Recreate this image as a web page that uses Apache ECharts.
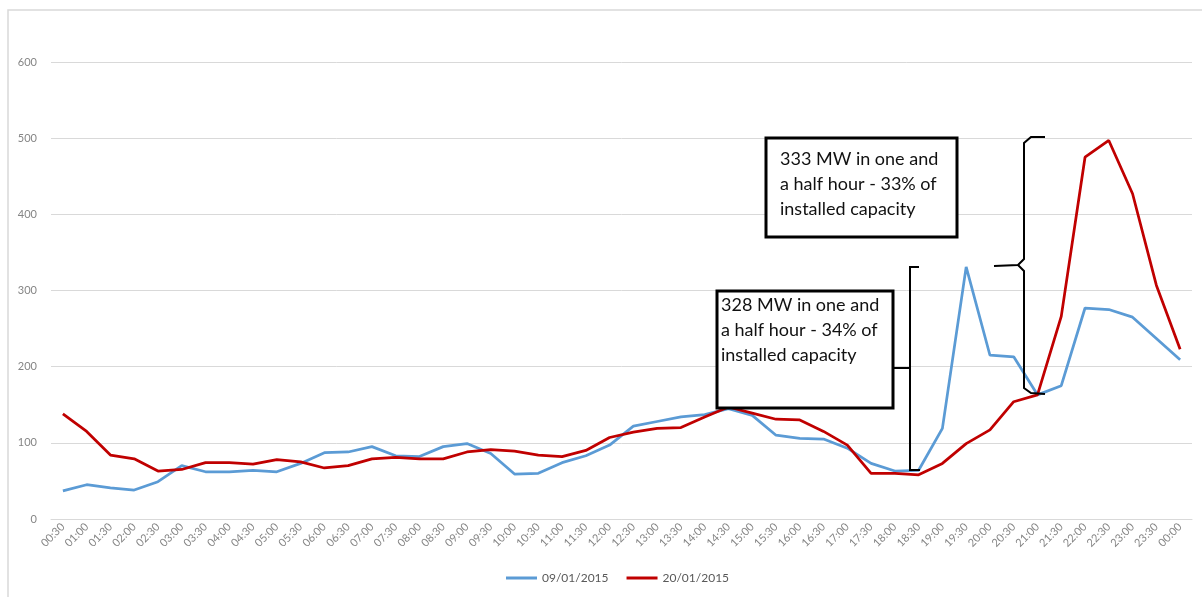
<!DOCTYPE html>
<html>
<head>
<meta charset="utf-8">
<script src="https://cdn.jsdelivr.net/npm/echarts@6/dist/echarts.min.js"></script>
<style>html,body{margin:0;padding:0;background:#fff}#c{width:1202px;height:597px}</style>
</head>
<body>
<div id="c"></div>
<script>
var categories = ["00:30","01:00","01:30","02:00","02:30","03:00","03:30","04:00","04:30","05:00","05:30","06:00","06:30","07:00","07:30","08:00","08:30","09:00","09:30","10:00","10:30","11:00","11:30","12:00","12:30","13:00","13:30","14:00","14:30","15:00","15:30","16:00","16:30","17:00","17:30","18:00","18:30","19:00","19:30","20:00","20:30","21:00","21:30","22:00","22:30","23:00","23:30","00:00"];
var series09 = [37,45,41,38,49,70,62,62,64,62,73,87,88,95,83,82,95,99,86,59,60,74,83,97,122,128,134,137,145,136,110,106,105,93,73,63,64,119,331,215,213,163,175,277,275,265,237,209];
var series20 = [138,115,84,79,63,65,74,74,72,78,75,67,70,79,81,79,79,88,91,89,84,82,90,107,114,119,120,134,147,139,131,130,115,97,60,60,58,73,99,117,154,163,266,475,497,427,307,223];
var yTicks = {min: 0, max: 600, interval: 100};
var legendNames = ["09/01/2015", "20/01/2015"];
var note1 = "333 MW in one and\na half hour - 33% of\ninstalled capacity";
var note2 = "328 MW in one and\na half hour - 34% of\ninstalled capacity";

var chart = echarts.init(document.getElementById('c'), null, {renderer: 'canvas'});
var font = 'Lato, "Open Sans", sans-serif';
chart.setOption({
  animation: false,
  backgroundColor: '#fff',
  grid: {left: 51, right: 10, top: 62, bottom: 78, containLabel: false},
  legend: {
    data: legendNames, bottom: 8, left: 501,
    icon: 'rect', itemWidth: 31, itemHeight: 3, itemGap: 18,
    textStyle: {color: '#595959', fontSize: 12, fontFamily: font}
  },
  xAxis: {
    type: 'category', data: categories, boundaryGap: true,
    axisLine: {lineStyle: {color: '#d9d9d9'}},
    axisTick: {show: false},
    axisLabel: {rotate: 45, interval: 0, color: '#858585', fontSize: 11, fontFamily: font, margin: 6}
  },
  yAxis: {
    type: 'value', min: yTicks.min, max: yTicks.max, interval: yTicks.interval,
    axisLine: {show: false}, axisTick: {show: false},
    axisLabel: {color: '#858585', fontSize: 11, fontFamily: font, margin: 14},
    splitLine: {lineStyle: {color: '#d9d9d9', width: 1}}
  },
  series: [
    {name: legendNames[0], type: 'line', data: series09, symbol: 'none', lineStyle: {color: '#5b9bd5', width: 2.75}, itemStyle: {color: '#5b9bd5'}, z: 2},
    {name: legendNames[1], type: 'line', data: series20, symbol: 'none', lineStyle: {color: '#c00000', width: 2.75}, itemStyle: {color: '#c00000'}, z: 3}
  ],
  graphic: [
    {type: 'rect', shape: {x: 8, y: 10, width: 1200, height: 600}, style: {fill: 'none', stroke: '#d9d9d9', lineWidth: 1.5}, z: -1, silent: true},
    {type: 'polyline', shape: {points: [[919,267],[910,267],[910,470],[920,470]]}, style: {stroke: '#000', lineWidth: 2, fill: null}, z: 10},
    {type: 'line', shape: {x1: 893, y1: 368, x2: 910, y2: 368}, style: {stroke: '#000', lineWidth: 2}, z: 10},
    {type: 'polyline', shape: {points: [[1045,137],[1031,137],[1024,143],[1024,259],[1018,265],[994,266]]}, style: {stroke: '#000', lineWidth: 2, fill: null}, z: 10},
    {type: 'polyline', shape: {points: [[1018,265],[1024,271],[1024,388],[1031,393],[1045,394]]}, style: {stroke: '#000', lineWidth: 2, fill: null}, z: 10},
    {type: 'rect', shape: {x: 766, y: 138, width: 191, height: 99}, style: {fill: '#fff', stroke: '#000', lineWidth: 3}, z: 10},
    {type: 'text', x: 780, y: 147, style: {text: note1, fill: '#111', font: '18px ' + font, lineHeight: 25, textVerticalAlign: 'top', verticalAlign: 'top'}, z: 11},
    {type: 'rect', shape: {x: 717, y: 291, width: 176, height: 117}, style: {fill: '#fff', stroke: '#000', lineWidth: 3}, z: 10},
    {type: 'text', x: 721, y: 293, style: {text: note2, fill: '#111', font: '18px ' + font, lineHeight: 25, textVerticalAlign: 'top', verticalAlign: 'top'}, z: 11}
  ]
});
</script>
</body>
</html>
